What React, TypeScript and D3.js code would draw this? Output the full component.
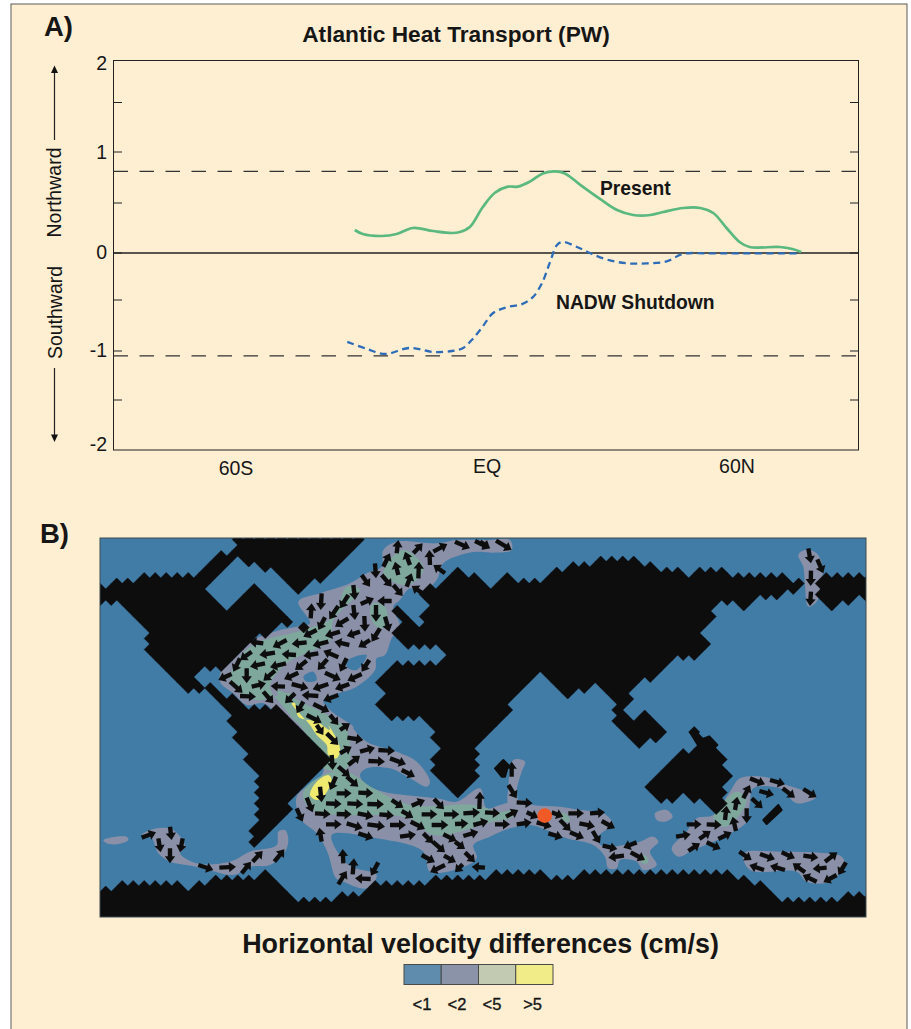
import React, { useEffect, useRef } from 'react';
import * as d3 from 'd3';

type Pt = [number, number];
type Seg = [number, number, number, number];

// Heat transport curves: latitude (deg) and PW
const presentLat = [-31.6, -29.7, -25.1, -21.6, -17.7, -12.9, -8.4, -6.5, -4.1, -1.0, 1.9, 5.0, 7.4, 10.3, 13.4, 16.3, 18.7, 22.3, 27.1, 31.2, 35.1, 39.2, 42.3, 47.1, 51.2, 54.3, 57.5, 60.6, 63.0, 70.2, 73.3, 75.4];
const presentPW = [0.23, 0.19, 0.17, 0.19, 0.25, 0.22, 0.2, 0.21, 0.26, 0.46, 0.6, 0.66, 0.66, 0.71, 0.79, 0.81, 0.79, 0.68, 0.54, 0.43, 0.38, 0.38, 0.41, 0.45, 0.45, 0.4, 0.25, 0.11, 0.06, 0.06, 0.04, 0.01];
const shutdownLat = [-33.4, -28.7, -24.4, -18.4, -12.9, -8.4, -5.7, -3.6, -1.2, 1.4, 4.8, 8.4, 11.0, 13.2, 15.1, 16.8, 18.2, 21.6, 24.7, 28.8, 33.6, 38.4, 43.1, 47.1, 54.3, 75.4];
const shutdownPW = [-0.91, -0.98, -1.03, -0.97, -1.01, -1.0, -0.97, -0.89, -0.77, -0.63, -0.57, -0.54, -0.47, -0.32, -0.1, 0.08, 0.11, 0.06, 0, -0.07, -0.11, -0.11, -0.09, -0.01, -0.005, -0.005];
const refLevels = [0.81, -1.05];
const tickValues = [-1.5, -1, -0.5, 0, 0.5, 1, 1.5];
const yLabels = ['2', '1', '0', '-1', '-2'];
const xLabels = ['60S', 'EQ', '60N'];
const xLabelLat = [-60, 0, 60];

// Map outlines were digitised on four tiles at 3x, tile origin is added below
const nw = (p: Pt[]): Pt[] => p.map(([x, y]) => [90 + x / 3, 530 + y / 3]);
const ne = (p: Pt[]): Pt[] => p.map(([x, y]) => [480 + x / 3, 530 + y / 3]);
const sw = (p: Pt[]): Pt[] => p.map(([x, y]) => [90 + x / 3, 725 + y / 3]);
const se = (p: Pt[]): Pt[] => p.map(([x, y]) => [480 + x / 3, 725 + y / 3]);

const landNorthAmerica = nw([[20, 165], [130, 155], [180, 128], [300, 140], [335, 105], [375, 75], [440, 60], [425, 15], [830, 15], [620, 210], [660, 290], [615, 300], [570, 290], [470, 345], [400, 415], [380, 400], [315, 440], [350, 475], [300, 480], [170, 350], [180, 320], [80, 220], [20, 220]]);
const landCentral = nw([[340, 470], [385, 470], [470, 540], [500, 600], [440, 590]]);
const landSouthAmerica = [...nw([[450, 578], [495, 525], [560, 540], [640, 600]]), ...sw([[710, 105], [700, 130], [525, 330], [510, 360], [490, 350], [498, 190], [515, 155], [460, 95], [465, 80], [425, 25]])];
const landEurasiaAfrica = [
  ...nw([[1200, 150], [1100, 125], [985, 195], [1018, 240], [985, 280], [912, 222], [935, 290], [905, 325], [935, 352], [1020, 350], [1078, 378], [1030, 397], [905, 397], [845, 455], [885, 480], [845, 520], [905, 558], [1000, 558], [1032, 590]]),
  ...sw([[1040, 60], [1035, 120], [1040, 160], [1100, 232], [1165, 150], [1165, 80], [1180, 40]]),
  ...ne([[30, 600], [95, 530], [85, 510], [175, 420], [270, 512], [335, 455], [412, 525], [400, 545], [410, 560], [400, 580], [440, 600]]),
  ...se([[405, 0], [475, 72], [557, 25], [530, 0]]),
  ...ne([[548, 600], [495, 550], [465, 577], [430, 545], [460, 515], [450, 495], [490, 450], [510, 462], [590, 385], [605, 402], [688, 350], [648, 305], [685, 287], [702, 272], [680, 240], [710, 215], [750, 215], [800, 242], [850, 197], [895, 207], [910, 187], [930, 192], [975, 165], [975, 150], [945, 160], [910, 135], [740, 135], [705, 112], [670, 112], [640, 135], [600, 118], [530, 120], [450, 82], [415, 82], [330, 100], [255, 112], [210, 130], [170, 150], [65, 142], [35, 170], [0, 145]]),
];
const landFarEast = ne([[1030, 135], [1175, 135], [1175, 215], [1135, 198], [1100, 222], [1085, 208], [1055, 242], [1015, 205], [1010, 165]]);
const landAustralia = se([[500, 185], [605, 80], [650, 60], [630, 25], [640, 15], [665, 45], [685, 35], [710, 60], [725, 100], [745, 150], [735, 220], [720, 265], [665, 210], [630, 230], [605, 205], [585, 230], [550, 230]]);
const landAntarctica = [
  ...sw([[10, 500], [100, 482], [260, 482], [320, 487], [345, 467], [470, 462], [530, 432], [625, 520], [720, 520], [755, 497], [780, 510], [850, 482], [1150, 455], [1200, 450]]),
  ...se([[90, 437], [160, 437], [195, 457], [290, 457], [320, 437], [700, 437], [790, 462], [860, 477], [875, 490], [870, 500], [890, 527], [1080, 527], [1120, 507], [1180, 507], [1180, 600]]),
  ...sw([[10, 600]]),
];
const waterHudson = nw([[350, 180], [440, 90], [525, 115], [615, 180], [660, 285], [615, 300], [525, 205], [535, 185], [490, 170], [405, 240]]);
const landSmall = [
  se([[45, 130], [70, 105], [85, 120], [75, 155], [65, 155]]),
  se([[850, 285], [895, 240], [905, 255], [860, 297]]),
  se([[630, 22], [642, 14], [668, 42], [688, 34], [712, 60], [690, 80], [655, 62]]),
];

const grayAtlantic = [
  ...nw([[390, 455], [400, 410], [470, 340], [570, 300], [620, 290], [660, 280], [625, 215], [690, 190], [780, 160], [830, 130], [875, 110], [880, 60], [920, 35], [1040, 40], [1100, 30], [1200, 30]]),
  ...ne([[90, 30], [95, 60], [40, 68], [0, 65]]),
  ...nw([[1130, 70], [1060, 100], [1040, 150], [990, 190], [960, 175], [930, 210], [910, 230], [930, 290], [905, 325], [885, 375], [860, 385], [855, 420], [800, 470], [700, 510], [720, 540], [790, 590]]),
  ...sw([[790, 10], [830, 50], [920, 80], [980, 110], [1020, 170], [1010, 185], [960, 160], [900, 130], [830, 130], [810, 150], [830, 180], [880, 200], [1040, 220], [1100, 230], [1170, 190]]),
  ...se([[20, 250], [60, 240], [120, 225], [160, 240], [240, 245], [300, 255], [370, 265], [400, 300], [370, 320], [350, 340], [370, 365], [430, 360], [480, 350], [520, 335], [535, 350], [510, 380], [530, 420], [490, 435], [470, 410], [420, 405], [410, 430], [385, 430], [375, 395], [340, 360], [260, 340], [200, 315], [150, 300], [90, 310], [30, 335]]),
  ...sw([[1150, 360], [1160, 400], [1110, 430], [1020, 440], [1000, 380], [860, 340], [725, 330], [775, 420], [860, 450], [830, 490], [760, 470], [738, 460], [712, 380], [680, 325], [635, 285], [620, 215], [700, 140], [650, 30]]),
  ...nw([[560, 550], [520, 520], [470, 525], [430, 490]]),
];
const grayPatches = [
  ne([[955, 75], [975, 60], [1010, 70], [1030, 125], [1015, 165], [1020, 180], [1010, 215], [985, 230], [975, 165], [970, 110]]),
  sw([[155, 330], [200, 310], [250, 315], [285, 365], [270, 385], [320, 415], [420, 410], [480, 380], [560, 360], [565, 320], [585, 315], [595, 345], [585, 380], [540, 420], [480, 425], [430, 450], [340, 430], [290, 420], [240, 410], [205, 385], [185, 340]]),
  sw([[40, 345], [110, 335], [115, 345], [80, 358], [50, 355]]),
  se([[85, 190], [100, 105], [135, 110], [125, 140], [110, 195], [112, 235], [85, 235]]),
  se([[525, 265], [560, 255], [578, 275], [555, 290], [530, 285]]),
  se([[575, 370], [620, 320], [650, 280], [700, 270], [750, 200], [780, 160], [850, 155], [920, 180], [1010, 215], [950, 235], [900, 190], [820, 190], [810, 230], [800, 290], [760, 320], [700, 350], [640, 375], [595, 395]]),
  se([[790, 385], [900, 380], [1040, 385], [1085, 395], [1095, 420], [1050, 470], [980, 470], [950, 440], [810, 435]]),
];
const greenPatches = [
  nw([[880, 125], [940, 60], [1000, 110], [990, 140], [950, 165], [900, 150]]),
  nw([[420, 440], [480, 350], [640, 300], [730, 260], [770, 170], [810, 180], [730, 270], [720, 330], [590, 400], [540, 470], [580, 530], [640, 590], [700, 590], [620, 520], [600, 490], [500, 510], [430, 470]]),
  nw([[850, 220], [885, 230], [890, 290], [860, 290], [840, 250]]),
  [...nw([[560, 480], [640, 520], [720, 560], [770, 600]]), ...sw([[770, 130], [700, 130], [650, 30]])],
  [...sw([[640, 200], [700, 150], [770, 140], [850, 190], [960, 240], [1150, 240]]), ...se([[60, 260], [115, 255], [90, 280], [40, 290]]), ...sw([[1030, 330], [960, 280], [700, 265], [650, 240]])],
  se([[240, 265], [255, 265], [270, 285], [255, 290]]),
  se([[700, 280], [770, 200], [800, 225], [760, 290], [730, 305]]),
  se([[480, 405], [495, 390], [505, 410], [495, 418]]),
];
const yellowPatches = [
  [...nw([[605, 520], [615, 520], [625, 560], [680, 575], [720, 600]]), ...sw([[715, 0], [750, 70], [740, 100], [715, 90], [710, 60], [680, 30], [660, 0]])],
  sw([[660, 210], [680, 170], [715, 150], [725, 165], [700, 215], [680, 225]]),
];
const holes = [
  nw([[775, 390], [830, 375], [800, 420], [770, 410]]),
  nw([[640, 440], [670, 425], [680, 450], [650, 455]]),
];

// Velocity arrows, tail to head
const arrowsNW: Seg[] = [[920, 70, 925, 30], [880, 110, 900, 70], [970, 70, 998, 40], [1030, 65, 1072, 42], [1095, 35, 1140, 55], [1155, 33, 1200, 55], [1020, 105, 1018, 60], [960, 105, 945, 65], [985, 145, 987, 95], [925, 135, 915, 95], [950, 170, 965, 130], [1065, 130, 1030, 105], [1005, 195, 965, 168], [855, 100, 858, 145], [815, 135, 840, 170], [875, 135, 905, 170], [910, 165, 938, 198], [790, 165, 795, 210], [695, 190, 692, 240], [662, 265, 665, 220], [775, 195, 750, 235], [812, 222, 852, 205], [905, 213, 862, 213], [745, 228, 718, 268], [858, 225, 858, 275], [790, 225, 795, 270], [705, 262, 685, 300], [775, 265, 735, 290], [823, 258, 825, 305], [885, 260, 898, 305], [680, 300, 640, 320], [750, 305, 705, 318], [810, 305, 770, 318], [870, 295, 845, 335], [840, 330, 805, 352], [520, 340, 478, 335], [590, 330, 548, 352], [650, 337, 605, 342], [715, 335, 668, 347], [778, 345, 733, 335], [485, 365, 450, 390], [555, 368, 508, 375], [618, 375, 575, 372], [685, 370, 640, 378], [745, 382, 700, 362], [525, 400, 480, 410], [588, 400, 540, 412], [650, 392, 615, 420], [712, 388, 683, 420], [770, 385, 750, 425], [838, 390, 815, 425], [450, 385, 430, 425], [425, 432, 385, 450], [470, 415, 470, 460], [555, 422, 520, 452], [625, 428, 582, 448], [705, 428, 752, 450], [815, 432, 772, 452], [420, 455, 458, 488], [485, 470, 528, 460], [585, 470, 542, 468], [605, 462, 655, 475], [715, 462, 668, 478], [778, 462, 735, 478], [450, 498, 498, 500], [520, 485, 550, 520], [615, 490, 585, 520], [685, 498, 635, 495], [745, 495, 700, 512], [640, 515, 620, 550], [670, 522, 718, 545], [720, 555, 745, 585], [650, 555, 695, 578], [750, 600, 780, 580]];
const arrowsNE: Seg[] = [[0, 35, 30, 55], [48, 32, 95, 60], [985, 55, 993, 100], [1012, 88, 1030, 130], [993, 122, 992, 168], [993, 185, 990, 228]];
const arrowsSW: Seg[] = [[680, 0, 700, 30], [710, 25, 745, 60], [725, 90, 728, 135], [750, 85, 785, 65], [775, 120, 810, 92], [810, 80, 855, 68], [865, 75, 915, 78], [772, 38, 820, 45], [835, 108, 885, 110], [900, 100, 948, 118], [935, 135, 975, 155], [745, 125, 780, 155], [770, 155, 805, 185], [738, 155, 720, 195], [690, 185, 695, 232], [650, 218, 668, 262], [620, 250, 638, 290], [740, 205, 785, 205], [805, 203, 850, 205], [708, 235, 755, 237], [772, 235, 820, 238], [832, 237, 882, 238], [905, 225, 940, 248], [965, 242, 1005, 225], [1032, 222, 1062, 253], [1168, 252, 1170, 200], [675, 265, 722, 268], [740, 267, 785, 268], [803, 265, 850, 275], [868, 268, 912, 272], [935, 258, 970, 278], [995, 268, 1042, 268], [1062, 268, 1108, 268], [1120, 265, 1170, 262], [708, 298, 755, 298], [770, 295, 818, 310], [832, 298, 885, 305], [900, 300, 948, 300], [962, 290, 1005, 312], [1025, 300, 1075, 300], [1095, 297, 1135, 295], [1150, 300, 1195, 288], [805, 325, 850, 340], [930, 335, 978, 328], [1120, 333, 1165, 320], [1000, 325, 1030, 355], [1028, 350, 1065, 382], [1060, 328, 1100, 348], [1095, 350, 1125, 372], [1125, 382, 1155, 412], [995, 390, 1035, 412], [1062, 392, 1098, 412], [1118, 418, 1095, 442], [1065, 420, 1020, 442], [1185, 428, 1145, 425], [695, 350, 688, 308], [760, 415, 758, 372], [745, 478, 770, 438], [788, 448, 792, 400], [842, 462, 795, 460], [865, 412, 843, 452], [155, 338, 198, 322], [240, 305, 245, 345], [205, 340, 212, 382], [240, 370, 240, 415], [278, 340, 270, 382], [325, 420, 370, 435], [388, 428, 438, 425], [455, 445, 483, 410], [488, 410, 518, 378], [553, 410, 583, 373]];
const arrowsSE: Seg[] = [[110, 232, 158, 235], [15, 262, 60, 265], [78, 275, 115, 255], [140, 262, 175, 278], [215, 262, 250, 275], [265, 265, 312, 265], [330, 265, 375, 262], [365, 288, 405, 310], [45, 298, 90, 298], [110, 298, 155, 292], [170, 292, 215, 305], [240, 285, 272, 318], [298, 295, 345, 305], [270, 322, 312, 340], [205, 325, 248, 338], [338, 318, 360, 355], [368, 362, 412, 372], [470, 352, 430, 368], [432, 392, 385, 398], [452, 382, 495, 405], [85, 180, 110, 220], [95, 155, 95, 110], [620, 298, 665, 298], [680, 298, 725, 300], [588, 335, 632, 328], [658, 342, 692, 318], [715, 342, 755, 322], [625, 378, 660, 355], [680, 352, 722, 372], [735, 285, 740, 242], [765, 255, 772, 215], [790, 220, 810, 180], [768, 318, 758, 275], [800, 250, 800, 295], [815, 220, 848, 250], [810, 160, 855, 178], [870, 165, 915, 178], [838, 198, 882, 210], [908, 190, 945, 218], [970, 192, 1010, 217], [778, 380, 815, 405], [840, 387, 885, 403], [905, 382, 945, 400], [970, 392, 1015, 398], [1035, 410, 1072, 382], [1098, 412, 1075, 450], [1070, 450, 1030, 472], [1040, 428, 998, 432], [1010, 470, 968, 450], [975, 442, 938, 415], [915, 435, 870, 422], [852, 435, 808, 420]];
const redDot = se([[194, 272]])[0];

const legendLabels = ['<1', '<2', '<5', '>5'];
const legendColors = ['#5f8cac', '#8a93a8', '#c2cbb2', '#f2ec88'];
const legendLabelX = [422, 457, 492, 532.6];

const FONT = '"Liberation Sans", Arial, sans-serif';
const INK = '#161616';

const App = () => {
  const svgRef = useRef<SVGSVGElement>(null);

  useEffect(() => {
    const svg = d3.select(svgRef.current);
    svg.selectAll('*').remove();

    // panel
    svg.append('rect').attr('x', 11).attr('y', 4).attr('width', 896).attr('height', 1040)
      .attr('fill', '#feefd3').attr('stroke', '#5a5a5a').attr('stroke-width', 1);

    const text = (x: number, y: number, s: string, size: number, bold = false, anchor = 'start') =>
      svg.append('text').attr('x', x).attr('y', y).attr('text-anchor', anchor)
        .attr('font-family', FONT).attr('font-size', size).attr('font-weight', bold ? 700 : 400)
        .attr('fill', INK).text(s);

    // ---- A) heat transport
    const left = 113.5, right = 858.5, top = 60.5, bottom = 450;
    const x = d3.scaleLinear().domain([-60, 0, 60]).range([236, 487, 737]);
    const y = d3.scaleLinear()
      .domain([-2, -1.5, -1, -0.5, 0, 0.5, 1, 1.5, 2])
      .range([bottom, 400, 351, 300, 253, 203, 152, 102.5, top]);

    text(44, 36, 'A)', 27.5, true);
    text(456, 41.5, 'Atlantic Heat Transport (PW)', 22.7, true, 'middle');

    svg.append('rect').attr('x', left).attr('y', top).attr('width', right - left).attr('height', bottom - top)
      .attr('fill', 'none').attr('stroke', '#222').attr('stroke-width', 1);

    svg.selectAll('.tick-l').data(tickValues).enter().append('path')
      .attr('d', d => `M${left},${y(d)}h8.5M${right},${y(d)}h-8.5`)
      .attr('stroke', '#222').attr('stroke-width', 1.2);

    svg.append('line').attr('x1', left).attr('x2', right).attr('y1', y(0)).attr('y2', y(0))
      .attr('stroke', '#222').attr('stroke-width', 1.4);

    svg.selectAll('.ref').data(refLevels).enter().append('line')
      .attr('x1', left).attr('x2', right).attr('y1', d => y(d)).attr('y2', d => y(d))
      .attr('stroke', '#333').attr('stroke-width', 1.2).attr('stroke-dasharray', '14.5,11.5');

    const labelY = [69.5, 159, 259, 357, 451];
    yLabels.forEach((l, i) => text(107, labelY[i], l, 19.5, false, 'end'));
    xLabels.forEach((l, i) => text(x(xLabelLat[i]), i === 0 ? 475 : 473, l, 19.5, false, 'middle'));

    const curve = d3.line<[number, number]>().x(d => x(d[0])).y(d => y(d[1])).curve(d3.curveCatmullRom.alpha(0.5));
    svg.append('path').attr('d', curve(d3.zip(presentLat, presentPW) as [number, number][]))
      .attr('fill', 'none').attr('stroke', '#5bb97f').attr('stroke-width', 2.7);
    svg.append('path').attr('d', curve(d3.zip(shutdownLat, shutdownPW) as [number, number][]))
      .attr('fill', 'none').attr('stroke', '#2f6cb8').attr('stroke-width', 2.3).attr('stroke-dasharray', '7,4.5');

    text(600, 194.5, 'Present', 19.3, true);
    text(556, 308.5, 'NADW Shutdown', 19.3, true);

    const vText = (bx: number, cy: number, s: string) =>
      svg.append('text').attr('transform', `translate(${bx},${cy}) rotate(-90)`).attr('text-anchor', 'middle')
        .attr('font-family', FONT).attr('font-size', 19.5).attr('fill', INK).text(s);
    vText(60.5, 192.5, 'Northward');
    vText(61.5, 312.5, 'Southward');
    svg.append('path').attr('d', 'M54.5,140V70M54.5,368V438').attr('stroke', '#222').attr('stroke-width', 1.2);
    svg.append('path').attr('d', 'M54.5,65.5l-3.5,7.5h7zM54.5,442l-3.5,-7.5h7z').attr('fill', '#111');

    // ---- B) map
    text(40, 543, 'B)', 27.5, true);
    const mapLeft = 100, mapRight = 866, mapTop = 538, mapBottom = 917;
    const mapX = d3.scaleLinear().domain([100, 866]).range([mapLeft, mapRight]);
    const mapY = d3.scaleLinear().domain([538, 917]).range([mapTop, mapBottom]);
    const project = (p: Pt): Pt => [mapX(p[0]), mapY(p[1])];

    svg.append('clipPath').attr('id', 'map-clip').append('rect')
      .attr('x', mapLeft).attr('y', mapTop).attr('width', mapRight - mapLeft).attr('height', mapBottom - mapTop);
    const soften = svg.append('filter').attr('id', 'map-soften');
    soften.append('feGaussianBlur').attr('stdDeviation', 0.35);
    const map = svg.append('g').attr('clip-path', 'url(#map-clip)').append('g').attr('filter', 'url(#map-soften)');
    map.append('rect').attr('x', mapLeft - 5).attr('y', mapTop - 5).attr('width', mapRight - mapLeft + 10).attr('height', mapBottom - mapTop + 10)
      .attr('fill', '#417ca6');

    const blob = d3.line().curve(d3.curveCatmullRomClosed.alpha(0.5));
    const addBlobs = (list: Pt[][], color: string) =>
      map.append('g').selectAll('path').data(list).enter().append('path')
        .attr('d', d => blob(d.map(project))).attr('fill', color);
    addBlobs([grayAtlantic, ...grayPatches], '#8a90a8');
    addBlobs(greenPatches, '#7fa89c');
    addBlobs(yellowPatches, '#efe96f');
    addBlobs(holes, '#417ca6');

    // land sits on the model's diamond grid, so coasts come out as steps
    const landPolys = [landNorthAmerica, landCentral, landSouthAmerica, landEurasiaAfrica, landFarEast, landAustralia, landAntarctica];
    const cellW = 11, cellH = 11;
    const originX = 501.7, originY = 583.5;
    const isLand = (p: Pt) => !d3.polygonContains(waterHudson, p) && landPolys.some(poly => d3.polygonContains(poly, p));
    const cells = d3.path();
    for (let row = -12; row <= 64; row++) {
      const cy = originY + row * cellH / 2;
      const shift = Math.abs(row % 2) === 1 ? cellW / 2 : 0;
      for (let col = -40; col <= 40; col++) {
        const cx = originX + col * cellW + shift;
        if (!isLand([cx, cy])) continue;
        const [px, py] = project([cx, cy]);
        cells.moveTo(px - cellW / 2, py);
        cells.lineTo(px, py - cellH / 2);
        cells.lineTo(px + cellW / 2, py);
        cells.lineTo(px, py + cellH / 2);
        cells.closePath();
      }
    }
    map.append('path').attr('d', cells.toString()).attr('fill', '#0e0e0e').attr('stroke', '#0e0e0e').attr('stroke-width', 0.6);
    map.append('g').selectAll('path').data(landSmall).enter().append('path')
      .attr('d', d => d3.line()(d.map(project)) + 'Z').attr('fill', '#0e0e0e')
      .attr('stroke', '#0e0e0e').attr('stroke-width', 2).attr('stroke-linejoin', 'round');
    map.append('rect').attr('x', mapLeft - 5).attr('y', 905).attr('width', mapRight - mapLeft + 10).attr('height', mapBottom - 900).attr('fill', '#0e0e0e');

    // arrows
    const toMap = (a: Seg[], f: (p: Pt[]) => Pt[]): [Pt, Pt][] => a.map(s => {
      const [p, q] = f([[s[0], s[1]], [s[2], s[3]]]);
      return [project(p), project(q)];
    });
    const arrows = [...toMap(arrowsNW, nw), ...toMap(arrowsNE, ne), ...toMap(arrowsSW, sw), ...toMap(arrowsSE, se)];
    map.append('g').selectAll('path').data(arrows).enter().append('path')
      .attr('transform', ([p, q]) => `translate(${p[0]},${p[1]}) rotate(${Math.atan2(q[1] - p[1], q[0] - p[0]) * 180 / Math.PI})`)
      .attr('d', ([p, q]) => {
        const len = Math.hypot(q[0] - p[0], q[1] - p[1]);
        const neck = len - 7;
        return d3.line()([[0, -2.2], [neck, -2.2], [neck, -5.2], [len, 0], [neck, 5.2], [neck, 2.2], [0, 2.2]]) + 'Z';
      })
      .attr('fill', '#111');

    const [dx, dy] = project(redDot);
    map.append('circle').attr('cx', dx).attr('cy', dy).attr('r', 7.3).attr('fill', '#f05a28');

    svg.append('rect').attr('x', mapLeft).attr('y', mapTop).attr('width', mapRight - mapLeft).attr('height', mapBottom - mapTop)
      .attr('fill', 'none').attr('stroke', '#3c4a50').attr('stroke-width', 1);

    // ---- legend
    text(480.5, 953, 'Horizontal velocity differences (cm/s)', 26.9, true, 'middle');
    const swatch = d3.scaleBand<number>().domain(d3.range(legendColors.length)).range([404, 553]);
    svg.selectAll('.swatch').data(legendColors).enter().append('rect')
      .attr('x', (_, i) => swatch(i) as number).attr('y', 964.5)
      .attr('width', swatch.bandwidth()).attr('height', 20)
      .attr('fill', d => d).attr('stroke', '#4a4a4a').attr('stroke-width', 1);
    legendLabels.forEach((l, i) => text(legendLabelX[i], 1010, l, 16.5, false, 'middle').attr('stroke', INK).attr('stroke-width', 0.35));
  }, []);

  return (
    <svg ref={svgRef} width={911} height={1029}
      style={{ position: 'absolute', left: 0, top: 0, display: 'block', background: '#fff' }} />
  );
};

export default App;
